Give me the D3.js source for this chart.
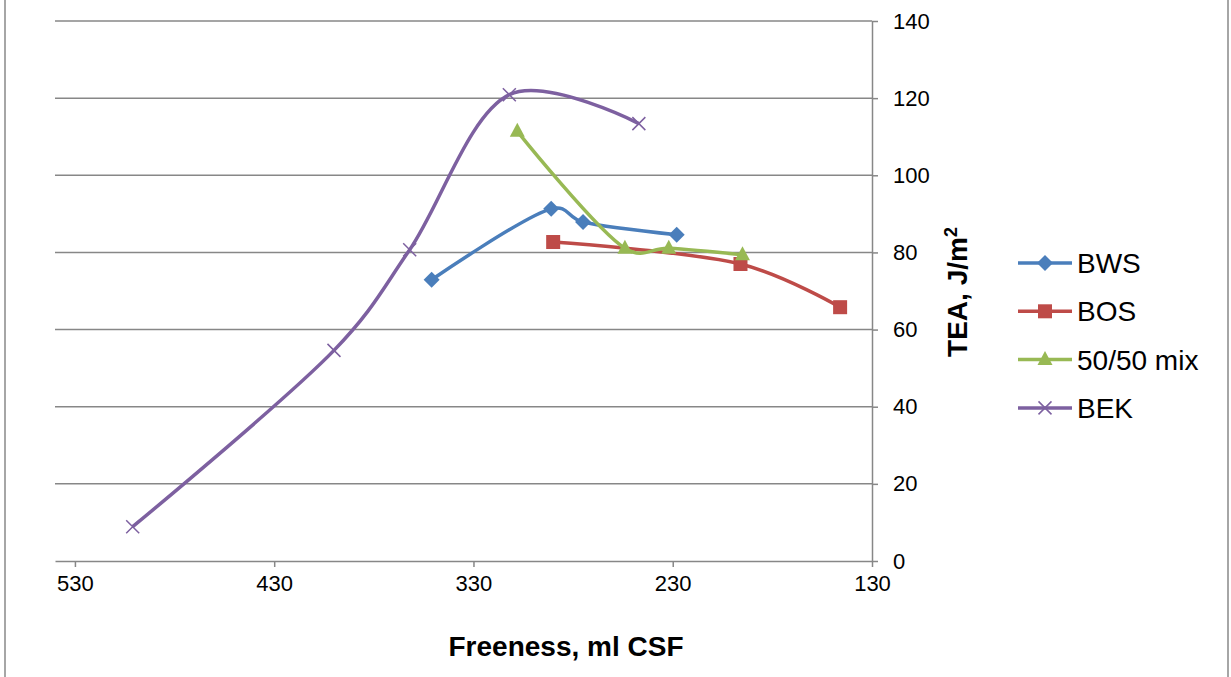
<!DOCTYPE html>
<html lang="en">
<head>
    <meta charset="UTF-8">
    <title>TEA vs Freeness</title>
    <script src="https://d3js.org/d3.v7.min.js"></script>
    <style>
        body {
            margin: 0;
            padding: 0;
            background-color: white;
            font-family: 'Liberation Sans', Arial, sans-serif;
        }

        #chart {
            display: block;
        }

        .grid line {
            stroke: #878787;
            stroke-width: 1.5;
        }

        .axis path, .axis line {
            stroke: #878787;
            stroke-width: 1.5;
        }

        .axis text {
            font-family: 'Liberation Sans', Arial, sans-serif;
            font-size: 22px;
            fill: black;
        }

        .title {
            font-family: 'Liberation Sans', Arial, sans-serif;
            font-size: 28px;
            font-weight: bold;
            fill: black;
        }

        .legend text {
            font-family: 'Liberation Sans', Arial, sans-serif;
            font-size: 28px;
            fill: black;
        }
    </style>
</head>
<body>
    <svg id="chart" width="1231" height="677"></svg>

    <script>
        // freeness (ml CSF) and TEA (J/m2)
        const seriesNames = ["BWS", "BOS", "50/50 mix", "BEK"];
        const bwsFreeness = [351, 291, 275, 228];
        const bwsTEA = [72.9, 91.3, 87.9, 84.6];
        const bosFreeness = [290, 196, 146];
        const bosTEA = [82.7, 77.0, 65.8];
        const mixFreeness = [308, 254, 232, 195];
        const mixTEA = [111.4, 81.1, 81.1, 79.4];
        const bekFreeness = [501, 400, 362, 312, 247];
        const bekTEA = [8.9, 54.6, 80.7, 120.9, 113.4];
        const xTicks = [530, 430, 330, 230, 130];
        const yTicks = [0, 20, 40, 60, 80, 100, 120, 140];

        const colors = ["#4A7EBB", "#BE4B48", "#98B954", "#7D60A0"];
        const markers = ["diamond", "square", "triangle", "cross"];

        const series = [
            { name: seriesNames[0], xs: bwsFreeness, ys: bwsTEA },
            { name: seriesNames[1], xs: bosFreeness, ys: bosTEA },
            { name: seriesNames[2], xs: mixFreeness, ys: mixTEA },
            { name: seriesNames[3], xs: bekFreeness, ys: bekTEA }
        ];

        const plotLeft = 55, plotRight = 872, plotTop = 21, plotBottom = 561;

        const svg = d3.select("#chart");

        // chart frame (only the sides show in the picture)
        svg.append("rect")
           .attr("x", 5).attr("y", -5)
           .attr("width", 1223).attr("height", 690)
           .attr("fill", "none")
           .attr("stroke", "#898989")
           .attr("stroke-width", 1.5);

        const x = d3.scaleLinear().domain([540, 130]).range([plotLeft, plotRight]);
        const y = d3.scaleLinear().domain([0, 140]).range([plotBottom, plotTop]);

        // horizontal gridlines
        svg.append("g")
           .attr("class", "grid")
           .selectAll("line")
           .data(yTicks.filter(d => d > 0))
           .enter().append("line")
           .attr("x1", plotLeft)
           .attr("x2", plotRight)
           .attr("y1", d => y(d))
           .attr("y2", d => y(d));

        const xAxis = svg.append("g")
           .attr("class", "axis")
           .attr("transform", "translate(0," + plotBottom + ")")
           .call(d3.axisBottom(x).tickValues(xTicks).tickSize(6).tickSizeOuter(0).tickPadding(8));
        xAxis.selectAll("text").attr("dy", "0.71em");

        svg.append("g")
           .attr("class", "axis")
           .attr("transform", "translate(" + plotRight + ",0)")
           .call(d3.axisRight(y).tickValues(yTicks).tickSize(6).tickSizeOuter(0).tickPadding(15));

        // axis titles
        svg.append("text")
           .attr("class", "title")
           .attr("x", 566)
           .attr("y", 656)
           .attr("text-anchor", "middle")
           .text("Freeness, ml CSF");

        const yTitle = svg.append("text")
           .attr("class", "title")
           .attr("text-anchor", "middle")
           .attr("transform", "translate(967,292) rotate(-90)");
        yTitle.append("tspan").text("TEA,  J/m");
        yTitle.append("tspan").attr("font-size", "18px").attr("dy", "-10").text("2");

        // smoothed lines, close to Excel's smoothing
        const line = d3.line()
            .x(d => x(d[0]))
            .y(d => y(d[1]))
            .curve(d3.curveCatmullRom.alpha(0.25));

        function drawMarker(g, type, color) {
            if (type === "diamond") {
                g.append("path").attr("d", "M0,-8L8,0L0,8L-8,0Z").attr("fill", color);
            } else if (type === "square") {
                g.append("rect").attr("x", -7).attr("y", -7).attr("width", 14).attr("height", 14).attr("fill", color);
            } else if (type === "triangle") {
                g.append("path").attr("d", "M0,-8.5L7.5,5.5L-7.5,5.5Z").attr("fill", color);
            } else {
                g.append("path").attr("d", "M-6.5,-6.5L6.5,6.5M-6.5,6.5L6.5,-6.5")
                 .attr("stroke", color).attr("stroke-width", 1.5).attr("fill", "none");
            }
        }

        series.forEach(function(s, i) {
            const pts = s.xs.map((v, j) => [v, s.ys[j]]);
            svg.append("path")
               .datum(pts)
               .attr("d", line)
               .attr("fill", "none")
               .attr("stroke", colors[i])
               .attr("stroke-width", 3.5);

            pts.forEach(function(p) {
                const g = svg.append("g").attr("transform", "translate(" + x(p[0]) + "," + y(p[1]) + ")");
                drawMarker(g, markers[i], colors[i]);
            });
        });

        // legend
        const legend = svg.append("g").attr("class", "legend");
        seriesNames.forEach(function(name, i) {
            const ly = 263 + i * 48.3;
            legend.append("line")
                  .attr("x1", 1018).attr("x2", 1072)
                  .attr("y1", ly).attr("y2", ly)
                  .attr("stroke", colors[i])
                  .attr("stroke-width", 3.5);
            const g = legend.append("g").attr("transform", "translate(1045," + ly + ")");
            drawMarker(g, markers[i], colors[i]);
            legend.append("text")
                  .attr("x", 1077)
                  .attr("y", ly)
                  .attr("dy", "0.36em")
                  .text(name);
        });
    </script>
</body>
</html>
